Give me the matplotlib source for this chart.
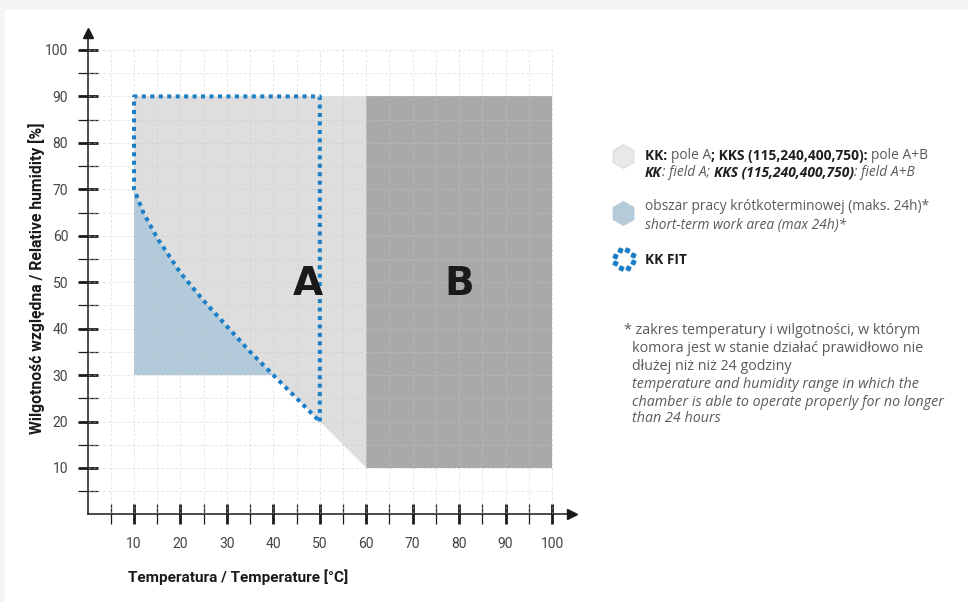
import numpy as np
import matplotlib

matplotlib.use("Agg")
import matplotlib.pyplot as plt
from matplotlib.patches import Rectangle

W, H = 968, 602

# chamber working fields (temperature in degC, relative humidity in %)
curve_t = [10, 12, 15, 20, 25, 30, 35, 40, 45, 50]
curve_rh = [70, 65, 59.5, 52, 46, 40.5, 35, 30, 25, 20]
t_min, t_fit_max, t_a_max, t_b_max = 10, 50, 60, 100
rh_max, rh_min, rh_short_min = 90, 10, 30

x_ticks = [10, 20, 30, 40, 50, 60, 70, 80, 90, 100]
y_ticks = [10, 20, 30, 40, 50, 60, 70, 80, 90, 100]

LABEL_FONT = ["Roboto", "DejaVu Sans"]
TEXT_FONT = ["Open Sans", "DejaVu Sans"]
FIT_BLUE = "#1b7ec6"

fig = plt.figure(figsize=(W / 100, H / 100), dpi=100)
fig.patch.set_facecolor("#f4f5f7")

# page layer (white panel + legend icons), pixel coordinates
page = fig.add_axes([0, 0, 1, 1], zorder=0)
page.set_xlim(0, W)
page.set_ylim(H, 0)
page.set_axis_off()
page.add_patch(Rectangle((5, 10), W, H, color="white", lw=0))

ax = fig.add_axes([87.6 / W, 87.6 / H, 484.4 / W, 481.6 / H], zorder=1)
ax.set_facecolor("none")
ax.set_xlim(0, 104.3)
ax.set_ylim(0, 103.7)

# dashed grid every 5 units up to 100
grid = np.arange(5, 101, 5)
ax.vlines(grid, 0, 100, colors="#c8c8c8", linestyles=(0, (3, 2)), lw=0.7, alpha=0.45, zorder=3)
ax.hlines(grid, 0, 100, colors="#c8c8c8", linestyles=(0, (3, 2)), lw=0.7, alpha=0.45, zorder=3)

# field B
ax.fill([t_a_max, t_b_max, t_b_max, t_a_max], [rh_min, rh_min, rh_max, rh_max],
        color="#a9a9a9", lw=0, zorder=1)
# field A
ax.fill(curve_t + [t_a_max, t_a_max, t_min], curve_rh + [rh_min, rh_max, rh_max],
        color="#dedede", lw=0, zorder=1)
# short-term work area
short_t = [t for t, rh in zip(curve_t, curve_rh) if rh >= rh_short_min]
short_rh = [rh for rh in curve_rh if rh >= rh_short_min]
ax.fill(short_t + [t_min], short_rh + [rh_short_min], color="#b2cad9", lw=0, zorder=2)

# KK FIT outline
fit_t = [t_fit_max, t_fit_max, t_min] + curve_t
fit_rh = [curve_rh[-1], rh_max, rh_max] + curve_rh
ax.plot(fit_t, fit_rh, color=FIT_BLUE, lw=2.9, linestyle=(0, (1, 1.1)),
        dash_capstyle="butt", zorder=4)

ax.text(47.5, 49.6, "A", fontsize=28, fontweight="bold", color="#1a1a1a",
        ha="center", va="center", family="DejaVu Sans", zorder=5)
ax.text(80, 49.6, "B", fontsize=28, fontweight="bold", color="#1a1a1a",
        ha="center", va="center", family="DejaVu Sans", zorder=5)

# axes with arrows
for side in ["top", "right"]:
    ax.spines[side].set_visible(False)
for side in ["left", "bottom"]:
    ax.spines[side].set_linewidth(1.1)
    ax.spines[side].set_color("#1a1a1a")
ax.plot(1, 0, ">", color="#1a1a1a", ms=7, transform=ax.transAxes, clip_on=False)
ax.plot(0, 1, "^", color="#1a1a1a", ms=7, transform=ax.transAxes, clip_on=False)

ax.set_xticks(x_ticks)
ax.set_yticks(y_ticks)
ax.set_xticks(np.arange(5, 100, 10), minor=True)
ax.set_yticks(np.arange(5, 100, 10), minor=True)
ax.tick_params(which="major", direction="inout", length=14, width=2, color="#1a1a1a",
               labelsize=10, labelcolor="#444444")
ax.tick_params(which="minor", direction="inout", length=14, width=0.9, color="#1a1a1a")
ax.tick_params(axis="x", which="major", pad=9)
ax.tick_params(axis="y", which="major", pad=7)
for lab in ax.get_xticklabels() + ax.get_yticklabels():
    lab.set_family(LABEL_FONT)

fig.text(128 / W, 1 - 577 / H, "Temperatura / Temperature [°C]", fontsize=11,
         fontweight="bold", color="#1a1a1a", ha="left", va="center", family=LABEL_FONT)
fig.text(37 / W, 1 - 278 / H, "Wilgotność względna / Relative humidity [%]", fontsize=11.3,
         fontweight="bold", color="#1a1a1a", ha="center", va="center", rotation=90,
         family=LABEL_FONT)

# legend icons
page.plot(623, 156, "h", ms=17, color="#e8e8e8", mec="#e0e0e0")
page.plot(623, 213, "h", ms=17, color="#b5cbda", mec="#b5cbda")
ang = np.deg2rad(np.arange(0, 360, 45) + 20)
page.plot(624 + 10 * np.cos(ang), 259 + 10 * np.sin(ang), linestyle="none",
          marker=(4, 0, 20), ms=3.8, color=FIT_BLUE)

renderer = fig.canvas.get_renderer()


def advance(s, **kw):
    # width of s including trailing spaces, measured against a probe glyph
    a = fig.text(0, 0, s + "x", **kw)
    b = fig.text(0, 0, "x", **kw)
    w = a.get_window_extent(renderer).width - b.get_window_extent(renderer).width
    a.remove()
    b.remove()
    return w


def rich(x, y, parts, size=9.9):
    # parts: (text, weight, style, color), drawn one after another
    for s, weight, style, color in parts:
        kw = dict(fontsize=size, fontweight=weight, fontstyle=style, family=TEXT_FONT)
        fig.text(x / W, 1 - y / H, s, color=color, va="center", ha="left", **kw)
        x += advance(s, **kw)


DARK, GREY = "#1e1e1e", "#5a5a5a"
rich(645, 156, [("KK: ", "bold", "normal", DARK), ("pole A", "normal", "normal", GREY),
                ("; KKS (115,240,400,750): ", "bold", "normal", DARK),
                ("pole A+B", "normal", "normal", GREY)])
rich(645, 173, [("KK", "bold", "italic", DARK), (": field A; ", "normal", "italic", GREY),
                ("KKS (115,240,400,750)", "bold", "italic", DARK),
                (": field A+B", "normal", "italic", GREY)])
rich(645, 207, [("obszar pracy krótkoterminowej (maks. 24h)*", "normal", "normal", GREY)])
rich(645, 225, [("short-term work area (max 24h)*", "normal", "italic", GREY)])
rich(645, 260, [("KK FIT", "bold", "normal", DARK)])

note = [
    (624, 330, "* zakres temperatury i wilgotności, w którym", "normal"),
    (632, 348, "komora jest w stanie działać prawidłowo nie", "normal"),
    (632, 366, "dłużej niż niż 24 godziny", "normal"),
    (632, 384, "temperature and humidity range in which the", "italic"),
    (632, 402, "chamber is able to operate properly for no longer", "italic"),
    (632, 419, "than 24 hours", "italic"),
]
for x, y, s, style in note:
    rich(x, y, [(s, "normal", style, GREY)], size=10.3)

fig.savefig("out.png", dpi=100, facecolor=fig.get_facecolor())
